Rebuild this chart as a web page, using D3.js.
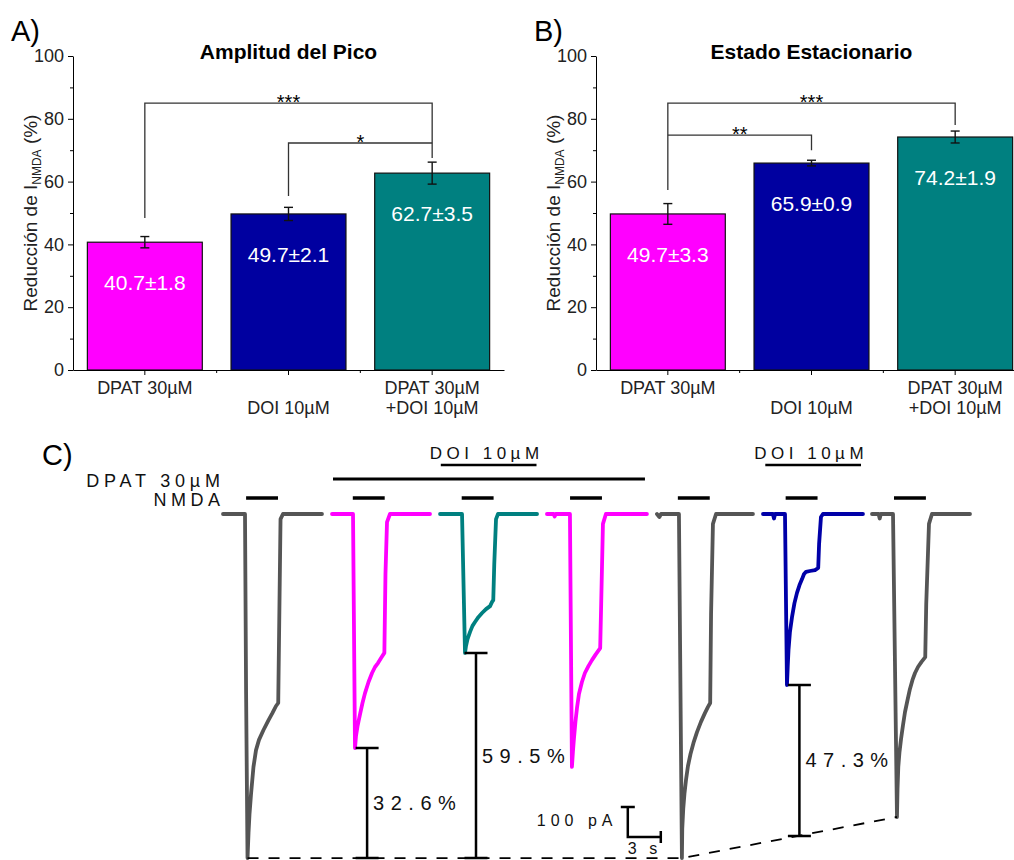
<!DOCTYPE html>
<html>
<head>
<meta charset="utf-8">
<script src="https://cdn.jsdelivr.net/npm/d3@7"></script>
<style>
  body { margin: 0; background: #fff; }
  svg { font-family: "Liberation Sans", Arial, sans-serif; }
</style>
</head>
<body>
<div id="chart"></div>
<script>
// bar data
const categories = ["DPAT 30µM", "\nDOI 10µM", "DPAT 30µM\n+DOI 10µM"];
const barColors = ["#ff00ff", "#0000a0", "#008080"];
const peakMeans = [40.7, 49.7, 62.7];
const peakSem = [1.8, 2.1, 3.5];
const steadyMeans = [49.7, 65.9, 74.2];
const steadySem = [3.3, 0.9, 1.9];
const yTicks = [0, 20, 40, 60, 80, 100];
const yMinor = [10, 30, 50, 70, 90];

// significance brackets: [from, to, level, leg end from, leg end to, stars]
const peakSig = [
    [0, 2, 85, 48.4, 67.5, "***"],
    [1, 2, 72.3, 55.4, 72.3, "*"]
];
const steadySig = [
    [0, 2, 85, 57.3, 78, "***"],
    [0, 1, 74.8, 74.8, 70, "**"]
];

// traces (time in s, current in pA), relative to each trace start
const traceStarts = [0, 9.82, 19.73, 29.45, 39.27, 49.09, 59.0];
const traceColors = ["#555555", "#ff00ff", "#008080", "#ff00ff", "#555555", "#0000a8", "#555555"];
const traces = [
    [[0,0],[2.0,0],[2.1,-600],[2.23,-1147],[2.32,-1063],[2.41,-1000],[2.55,-933],[2.77,-843],[3.0,-787],[3.27,-753],[3.68,-720],[4.14,-687],[4.5,-663],[4.82,-640],[5.02,-630],[5.23,-17],[5.45,0],[9.0,0]],
    [[0.09,0],[2.0,0],[2.18,-780],[2.27,-740],[2.41,-707],[2.64,-667],[2.86,-630],[3.09,-597],[3.41,-560],[3.73,-530],[4.0,-510],[4.27,-497],[4.55,-480],[4.85,-463],[4.95,-200],[5.09,-27],[5.36,0],[9.0,0]],
    [[0,0],[2.0,0],[2.27,-463],[2.36,-440],[2.5,-417],[2.73,-393],[2.95,-373],[3.18,-360],[3.5,-343],[3.82,-330],[4.18,-317],[4.55,-307],[4.73,-293],[4.84,-287],[4.93,-167],[5.09,-17],[5.27,0],[8.82,0]],
    [[0,0],[0.6,0],[0.7,-8],[0.8,0],[2.09,0],[2.27,-843],[2.36,-793],[2.45,-750],[2.59,-693],[2.73,-647],[2.91,-600],[3.18,-560],[3.45,-530],[3.77,-507],[4.09,-487],[4.45,-467],[4.84,-447],[4.93,-300],[5.09,-33],[5.36,0],[9.09,0]],
    [[0.18,0],[0.4,-10],[0.55,0],[2.18,0],[2.45,-1147],[2.48,-1050],[2.57,-983],[2.68,-933],[2.82,-887],[3.0,-840],[3.23,-800],[3.5,-763],[3.82,-727],[4.18,-693],[4.55,-663],[4.82,-643],[5.02,-630],[5.1,-333],[5.27,-33],[5.55,0],[8.91,0]],
    [[0,0],[0.9,0],[1.0,-15],[1.1,0],[2.0,0],[2.18,-570],[2.25,-507],[2.32,-453],[2.45,-393],[2.64,-343],[2.86,-297],[3.09,-263],[3.32,-237],[3.55,-217],[3.73,-200],[3.91,-193],[4.27,-190],[4.73,-187],[5.02,-180],[5.1,-100],[5.27,-10],[5.45,0],[9.09,0]],
    [[0,0],[0.6,0],[0.7,-15],[0.8,0],[1.91,0],[2.27,-1010],[2.32,-917],[2.39,-843],[2.5,-793],[2.64,-750],[2.82,-703],[3.0,-660],[3.23,-620],[3.45,-583],[3.68,-553],[3.91,-530],[4.18,-510],[4.5,-493],[4.84,-477],[4.93,-300],[5.18,-33],[5.45,0],[8.91,0]]
];
const nmdaOn = [2.1, 11.8, 21.7, 31.55, 41.35, 51.15, 61.0];
const nmdaDur = 2.9;
const dpatOn = [10.0, 38.36];
const doiOn = [[19.8, 28.5], [49.3, 58.0]];
const pctBars = [[13.1, -780, -1147, "32.6%"], [23.0, -463, -1147, "59.5%"], [52.4, -570, -1073, "47.3%"]];
const refLine = [[2.23, -1147], [41.72, -1147], [61.27, -1010]];
const scaleCorner = [36.8, -1077];

const svg = d3.select("#chart").append("svg")
    .attr("width", 1014)
    .attr("height", 860);

function drawBars(left, means, sems, sigs, title, letter) {
    const x = d3.scaleBand().domain(d3.range(3)).range([left, left + 431])
        .paddingInner(0.2).paddingOuter(0.1);
    const y = d3.scaleLinear().domain([0, 100]).range([370, 56]);
    const g = svg.append("g");

    g.append("g")
        .selectAll("rect")
        .data(means)
        .join("rect")
        .attr("x", (d, i) => x(i))
        .attr("y", d => y(d))
        .attr("width", x.bandwidth())
        .attr("height", d => y(0) - y(d))
        .attr("fill", (d, i) => barColors[i])
        .attr("stroke", "#111")
        .attr("stroke-width", 1.2);

    // error bars
    means.forEach((m, i) => {
        const cx = x(i) + x.bandwidth() / 2;
        g.append("line").attr("x1", cx).attr("x2", cx)
            .attr("y1", y(m - sems[i])).attr("y2", y(m + sems[i]))
            .attr("stroke", "#111").attr("stroke-width", 1.4);
        [m - sems[i], m + sems[i]].forEach(v => {
            g.append("line").attr("x1", cx - 4.5).attr("x2", cx + 4.5)
                .attr("y1", y(v)).attr("y2", y(v))
                .attr("stroke", "#111").attr("stroke-width", 1.4);
        });
        g.append("text")
            .attr("x", cx)
            .attr("y", y(m) + 48)
            .attr("text-anchor", "middle")
            .attr("fill", "#fff")
            .style("font-size", "21px")
            .text(`${m.toFixed(1)}±${sems[i].toFixed(1)}`);
    });

    // axes
    g.append("g")
        .attr("transform", `translate(${left},0)`)
        .call(d3.axisLeft(y).tickValues(yTicks).tickSize(5).tickSizeOuter(0).tickPadding(4))
        .call(a => a.selectAll("text").style("font-size", "18px").attr("fill", "#222"));
    g.append("g")
        .attr("transform", `translate(${left},0)`)
        .call(d3.axisLeft(y).tickValues(yMinor).tickSize(3).tickFormat(""))
        .call(a => a.select(".domain").remove());
    g.append("g")
        .attr("transform", "translate(0,370)")
        .call(d3.axisBottom(x).tickSize(5).tickSizeOuter(0).tickFormat(""));
    const step = x.step();
    [0, 1].forEach(i => {
        const bx = x(i) + x.bandwidth() + step * 0.1;
        g.append("line").attr("x1", bx).attr("x2", bx).attr("y1", 370).attr("y2", 373)
            .attr("stroke", "#000");
    });

    // category labels
    categories.forEach((c, i) => {
        c.split("\n").forEach((line, k) => {
            if (!line) return;
            g.append("text")
                .attr("x", x(i) + x.bandwidth() / 2)
                .attr("y", 394 + k * 20)
                .attr("text-anchor", "middle")
                .attr("fill", "#222")
                .style("font-size", "18px")
                .text(line);
        });
    });

    // significance brackets
    sigs.forEach(([a, b, lvl, la, lb, stars]) => {
        const xa = x(a) + x.bandwidth() / 2, xb = x(b) + x.bandwidth() / 2;
        g.append("path")
            .attr("d", `M${xa},${y(la)}V${y(lvl)}H${xb}V${y(lb)}`)
            .attr("fill", "none").attr("stroke", "#333").attr("stroke-width", 1.3);
        g.append("text")
            .attr("x", (xa + xb) / 2)
            .attr("y", y(lvl) + 6)
            .attr("text-anchor", "middle")
            .style("font-size", "20px")
            .text(stars);
    });

    // titles
    g.append("text")
        .attr("x", left + 431 / 2)
        .attr("y", 59)
        .attr("text-anchor", "middle")
        .style("font-size", "21px")
        .style("font-weight", "bold")
        .text(title);
    g.append("text")
        .attr("x", left - 62)
        .attr("y", 41)
        .style("font-size", "29px")
        .text(letter);

    const yl = g.append("text")
        .attr("transform", `translate(${left - 36},213) rotate(-90)`)
        .attr("text-anchor", "middle")
        .attr("fill", "#222")
        .style("font-size", "19px");
    yl.append("tspan").text("Reducción de I");
    yl.append("tspan").attr("dy", 4).style("font-size", "12px").text("NMDA");
    yl.append("tspan").attr("dy", -4).text(" (%)");
}

drawBars(73, peakMeans, peakSem, peakSig, "Amplitud del Pico", "A)");
drawBars(596, steadyMeans, steadySem, steadySig, "Estado Estacionario", "B)");

// Panel C
const xT = d3.scaleLinear().domain([0, 3]).range([223, 256]);
const yT = d3.scaleLinear().domain([0, -100]).range([514, 544]);
const c = svg.append("g");

c.append("text").attr("x", 42).attr("y", 465).style("font-size", "29px").text("C)");

const spaced = (x, y, txt, size, ls, anchor) => c.append("text")
    .attr("x", anchor === "end" ? x + ls : x)
    .attr("y", y)
    .attr("text-anchor", anchor)
    .style("font-size", size + "px")
    .style("letter-spacing", ls + "px")
    .attr("fill", "#111")
    .text(txt);

spaced(220, 487, "DPAT 30µM", 18, 4.8, "end");
spaced(220, 506, "NMDA", 18, 4.5, "end");

const line = d3.line().x(d => xT(d[0])).y(d => yT(d[1]));

traces.forEach((pts, i) => {
    c.append("path")
        .attr("d", line(pts.map(p => [p[0] + traceStarts[i], p[1]])))
        .attr("fill", "none")
        .attr("stroke", traceColors[i])
        .attr("stroke-width", 3.8)
        .attr("stroke-linejoin", "round")
        .attr("stroke-linecap", "round");
});

c.selectAll("line.nmda")
    .data(nmdaOn)
    .join("line")
    .attr("x1", d => xT(d)).attr("x2", d => xT(d + nmdaDur))
    .attr("y1", 498).attr("y2", 498)
    .attr("stroke", "#000").attr("stroke-width", 3.5);

c.append("line")
    .attr("x1", xT(dpatOn[0])).attr("x2", xT(dpatOn[1]))
    .attr("y1", 479).attr("y2", 479)
    .attr("stroke", "#000").attr("stroke-width", 3);

doiOn.forEach(([a, b]) => {
    c.append("line")
        .attr("x1", xT(a)).attr("x2", xT(b))
        .attr("y1", 465).attr("y2", 465)
        .attr("stroke", "#000").attr("stroke-width", 2.5);
    spaced((xT(a) + xT(b)) / 2 - 2, 459, "DOI 10µM", 17, 4.5, "middle");
});

// percentage brackets
pctBars.forEach(([t, top, bot, lab]) => {
    const px = xT(t);
    c.append("path")
        .attr("d", `M${px - 11.5},${yT(top)}H${px + 11.5}M${px},${yT(top)}V${yT(bot)}M${px - 11.5},${yT(bot)}H${px + 11.5}`)
        .attr("stroke", "#000").attr("stroke-width", 2.5).attr("fill", "none");
    spaced(px + 6, (yT(top) + yT(bot)) / 2 + 7, lab, 20, 6.5, "start");
});

// dashed reference
c.append("path")
    .attr("d", line(refLine))
    .attr("fill", "none")
    .attr("stroke", "#000")
    .attr("stroke-width", 1.8)
    .attr("stroke-dasharray", "11,10");

// scale bar
const sx = xT(scaleCorner[0]), sy = yT(scaleCorner[1]);
const sTop = yT(scaleCorner[1] + 100), sRight = xT(scaleCorner[0] + 3);
c.append("path")
    .attr("d", `M${sx - 7},${sTop}H${sx + 7}M${sx},${sTop}V${sy}H${sRight}M${sRight},${sy - 6}V${sy + 6}`)
    .attr("stroke", "#000").attr("stroke-width", 2.5).attr("fill", "none");
spaced(sx - 91, sy - 11, "100 pA", 16, 5, "start");
spaced(sx, sy + 17, "3 s", 16, 4, "start");
</script>
</body>
</html>
